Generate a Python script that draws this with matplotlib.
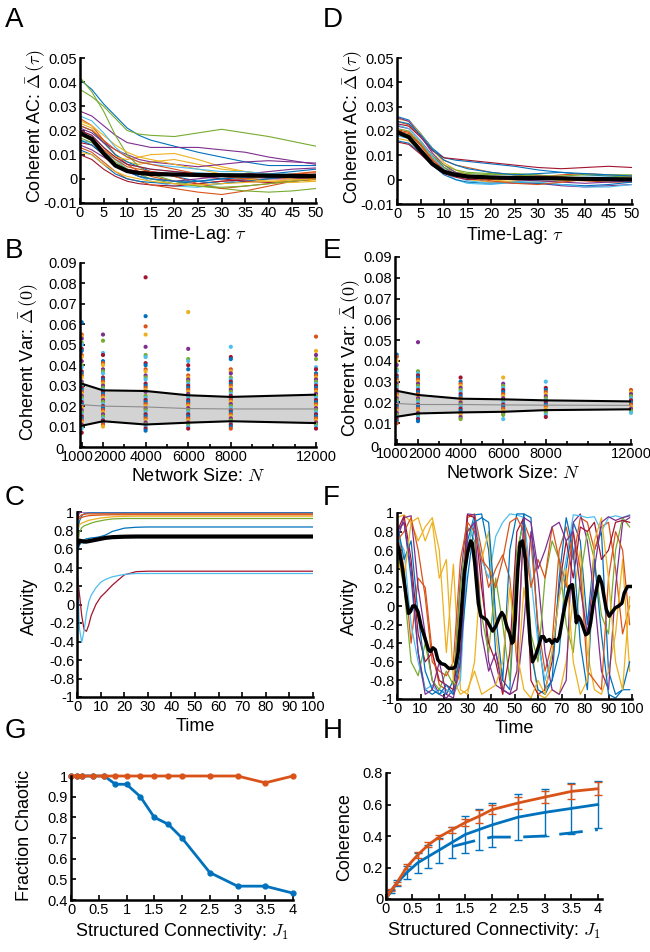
import numpy as np
import matplotlib.pyplot as plt
import matplotlib.transforms as mtransforms

plt.rcParams['font.family'] = ['Liberation Sans', 'DejaVu Sans']
plt.rcParams['mathtext.fontset'] = 'cm'

colors = ['#0072BD', '#D95319', '#EDB120', '#7E2F8E', '#77AC30', '#4DBEEE', '#A2142F']
blue, orange = colors[0], colors[1]

# ---- A: coherent autocorrelation, many networks (values x1e-3) ----
tau = [0, 2.5, 5, 7.5, 10, 12.5, 15, 20, 25, 30, 35, 40, 45, 50]
a_lines = [
    [41, 37, 31, 26, 21, 18, 16, 13.5, 11, 9, 7, 5.5, 5.5, 5.5],
    [25, 22, 16, 10, 6, 3, 1, -1, -2, -1, 0, 1, 2, 3],
    [23, 21, 15, 10, 7, 6, 7, 8, 6, 4, 3, 2, 1, 0.5],
    [28, 26, 22, 18, 15, 14, 13, 13, 13, 12, 11, 9, 7.5, 6],
    [37, 34, 30, 25, 20, 18.5, 18, 17.5, 19, 20.5, 19, 17.5, 15.5, 13.5],
    [20, 18, 13, 8, 4, 1, -1, -3, -3.5, -2, 0, 1, 1.5, 2],
    [10, 8, 4, 1, -1, -2, -2.5, -3, -2, -1, -0.5, 0, 0, 0.5],
    [22, 20, 15, 10, 7, 5, 3, 1, -1, -2, -1, 0, 1, 2],
    [13, 11, 7, 3, 0, -1, -2.5, -4, -5.5, -6.5, -5, -3, -1, 0],
    [18, 16, 12, 9, 8, 9, 10, 10.5, 8, 5, 3, 1, 0, -1],
    [21, 19, 15, 12, 10, 8, 7, 6, 5, 6, 7, 7.5, 7, 6.5],
    [42, 36, 28, 18, 10, 5, 2, -1, -3, -4, -5, -5.5, -5, -4],
    [16, 15, 11, 8, 6, 5, 4, 3, 2.5, 2, 2, 1, 0.5, 0],
    [15, 14, 10, 6, 4, 3, 3, 2, 1, 0, -1, -1.5, -1, 0],
    [12, 10, 6, 2, 0, -1, -1.5, -2, -1, 0, 1, 2, 3, 4],
    [19, 17, 12, 8, 5, 4, 3, 1, -2, -4, -3, -2, -1, 0],
    [24, 22, 18, 14, 11, 9, 8, 6, 4, 2, 0, -1, -1.5, -1],
    [14, 12, 9, 6, 3, 1, 0, -1, 0, 1, 2, 3, 4, 4.5],
    [17, 15, 11, 7, 4, 2, 0, -2, -3, -3.5, -3, -2, -1, 0],
    [26, 24, 19, 13, 9, 7, 6, 5, 4, 3, 3, 2, 2, 1.5],
    [20, 18, 13, 9, 6, 5, 4, 3, 2, 1, 1, 0.5, 0.5, 0],
    [16, 14, 10, 6, 3, 1, 0, -1, -1, 0, 0.5, 0.5, 1, 1],
    [22, 20, 16, 12, 9, 7, 6, 4, 2, 1, 0, 1, 2, 2.5],
    [11, 10, 6, 3, 1, 0, -1, -2, -2.5, -2, -1.5, -1, -0.5, 0],
]
a_mean = [19, 16.5, 10.5, 5.5, 3.2, 2.4, 2.0, 1.8, 1.6, 1.5, 1.4, 1.3, 1.2, 1.1]

# ---- D: same, other network type (values x1e-3) ----
d_lines = [
    [26, 24.5, 19, 13, 9, 8, 7.5, 6.5, 5.5, 4, 3, 2, 1.5, 1],
    [24, 22.5, 18, 12, 8, 6, 5, 3, 2, 1, 0, -0.5, -1, -1],
    [25, 24, 19, 12.5, 7, 4, 2, 0, -1, -1, -0.5, 0, 0.5, 1],
    [22, 21, 16, 10, 5, 2, 0.5, -1, -1.5, -1.5, -2.5, -3, -2.5, -2],
    [21, 20, 15, 9, 5, 3, 2.5, 2, 2.5, 2, 1, 0.5, 1, 1.5],
    [18, 17, 12.5, 7, 3, 0, -1.5, -2, -1, 0, 0.5, 1, 1, 0.5],
    [23, 22, 17.5, 12, 9, 8.5, 8, 7, 6, 5, 4.5, 5, 5.5, 5],
    [16, 15, 11, 6, 2, 0, -1, -1.5, -1, -1.5, -2, -2.5, -2, -1],
    [20, 19, 14, 8, 4, 2, 1, 0, 0.5, 1, 2, 2.5, 2, 1.5],
    [17, 16, 12, 7, 3.5, 1.5, 0, -1, -0.5, 0.5, 1, 0.5, 0, -0.5],
    [25.5, 24, 18, 11, 6, 3, 1.5, 0.5, 0, -0.5, -1, -1.5, -1, -0.5],
    [19, 18.5, 15, 10, 6, 4, 3, 2.5, 2, 1.5, 1.5, 2, 2, 2],
    [22.5, 21, 16, 9.5, 4.5, 1.5, -0.5, -1.5, -1, -1, -2, -3, -3, -2],
    [15.5, 14.5, 10.5, 6, 2.5, 1, 0, 0.5, 1, 1.5, 1, 0.5, 0, 0],
    [24, 23, 18.5, 12.5, 8, 6, 4.5, 3, 2, 2.5, 3, 2.5, 2, 1.5],
    [20.5, 19.5, 14.5, 8.5, 4, 2, 1, -0.5, -1.5, -2, -1, 0, 0.5, 0.5],
]
d_mean = [19.5, 17.5, 12, 6.5, 3.2, 2, 1.3, 0.9, 0.7, 0.6, 0.5, 0.3, 0.2, 0.1]

# ---- B / E: coherent variance vs network size ----
sizes = [1000, 2000, 4000, 6000, 8000, 12000]
b_points = [
    [0.061, 0.055, 0.054, 0.053, 0.051, 0.050, 0.048, 0.047, 0.045, 0.044, 0.042, 0.040, 0.039,
     0.037, 0.036, 0.035, 0.034, 0.032, 0.031, 0.030, 0.029, 0.028, 0.027, 0.026, 0.025, 0.024,
     0.023, 0.022, 0.021, 0.020, 0.019, 0.018, 0.017, 0.016, 0.015, 0.014, 0.013, 0.012, 0.011,
     0.010, 0.009, 0.007],
    [0.055, 0.052, 0.046, 0.045, 0.042, 0.041, 0.040, 0.038, 0.037, 0.036, 0.034, 0.033, 0.032,
     0.031, 0.030, 0.029, 0.028, 0.027, 0.026, 0.025, 0.024, 0.023, 0.022, 0.021, 0.020, 0.019,
     0.018, 0.017, 0.016, 0.015, 0.014, 0.013, 0.012, 0.011, 0.010],
    [0.083, 0.064, 0.059, 0.055, 0.049, 0.045, 0.044, 0.041, 0.040, 0.038, 0.037, 0.035, 0.034,
     0.033, 0.031, 0.030, 0.029, 0.028, 0.027, 0.025, 0.024, 0.023, 0.022, 0.021, 0.020, 0.019,
     0.018, 0.017, 0.016, 0.015, 0.014, 0.013, 0.012, 0.011, 0.010, 0.009, 0.008],
    [0.066, 0.048, 0.043, 0.042, 0.040, 0.038, 0.035, 0.034, 0.033, 0.032, 0.031, 0.030, 0.029,
     0.028, 0.027, 0.026, 0.025, 0.024, 0.023, 0.022, 0.021, 0.020, 0.019, 0.018, 0.017, 0.016,
     0.015, 0.014, 0.013, 0.012, 0.011, 0.010, 0.009],
    [0.049, 0.044, 0.043, 0.038, 0.037, 0.036, 0.034, 0.033, 0.032, 0.031, 0.030, 0.029, 0.028,
     0.027, 0.026, 0.025, 0.024, 0.023, 0.022, 0.021, 0.020, 0.019, 0.018, 0.017, 0.016, 0.015,
     0.014, 0.013, 0.012, 0.011, 0.010, 0.009],
    [0.054, 0.047, 0.045, 0.043, 0.039, 0.038, 0.036, 0.035, 0.034, 0.033, 0.032, 0.031, 0.030,
     0.029, 0.028, 0.027, 0.026, 0.025, 0.024, 0.023, 0.022, 0.021, 0.020, 0.019, 0.018, 0.017,
     0.016, 0.015, 0.014, 0.013, 0.012, 0.011, 0.010, 0.009],
]
b_upper = [0.031, 0.0277, 0.0274, 0.0253, 0.0245, 0.0256]
b_mid = [0.0207, 0.0200, 0.0196, 0.0188, 0.0186, 0.0186]
b_lower = [0.0104, 0.0126, 0.0110, 0.0119, 0.0126, 0.0117]

e_points = [
    [0.043, 0.042, 0.040, 0.038, 0.036, 0.035, 0.033, 0.032, 0.031, 0.030, 0.029, 0.028, 0.027,
     0.026, 0.025, 0.024, 0.023, 0.022, 0.021, 0.020, 0.019, 0.018, 0.017, 0.016, 0.015, 0.014,
     0.013, 0.012, 0.011, 0.010],
    [0.049, 0.035, 0.034, 0.033, 0.032, 0.031, 0.030, 0.029, 0.028, 0.027, 0.026, 0.025, 0.024,
     0.023, 0.022, 0.021, 0.020, 0.019, 0.018, 0.017, 0.016, 0.015, 0.014, 0.013, 0.012, 0.011],
    [0.032, 0.030, 0.029, 0.028, 0.027, 0.026, 0.025, 0.024, 0.023, 0.022, 0.021, 0.020, 0.019,
     0.018, 0.017, 0.016, 0.015, 0.014, 0.013, 0.012],
    [0.032, 0.029, 0.028, 0.027, 0.026, 0.025, 0.024, 0.023, 0.022, 0.021, 0.020, 0.019, 0.018,
     0.017, 0.016, 0.015, 0.014, 0.012],
    [0.030, 0.027, 0.026, 0.025, 0.024, 0.023, 0.022, 0.021, 0.020, 0.019, 0.018, 0.017, 0.016,
     0.015, 0.014, 0.013],
    [0.026, 0.025, 0.024, 0.023, 0.022, 0.021, 0.020, 0.019, 0.018, 0.017, 0.016, 0.015],
]
e_upper = [0.0256, 0.0236, 0.0218, 0.0215, 0.0210, 0.0205]
e_mid = [0.0195, 0.0190, 0.0190, 0.0188, 0.0187, 0.0186]
e_lower = [0.0131, 0.0147, 0.0152, 0.0155, 0.0163, 0.0167]

# ---- C: activity, non-chaotic network ----
c_time = [0, 1, 2, 3, 4, 5, 6, 8, 10, 12, 15, 20, 25, 30, 100]
c_lines = [
    ('#7E2F8E', [0.93, 0.99, 1.0, 1.0, 1.0, 1.0, 1.0, 1.0, 1.0, 1.0, 1.0, 1.0, 1.0, 1.0, 1.0]),
    ('#0072BD', [0.7, 0.9, 0.96, 0.98, 0.985, 0.99, 0.99, 0.99, 0.99, 0.99, 0.99, 0.99, 0.99, 0.99, 0.99]),
    ('#D95319', [0.9, 0.95, 0.97, 0.975, 0.98, 0.98, 0.98, 0.98, 0.98, 0.98, 0.98, 0.98, 0.98, 0.98, 0.98]),
    ('#D95319', [0.95, 0.93, 0.94, 0.95, 0.955, 0.96, 0.962, 0.965, 0.967, 0.968, 0.97, 0.97, 0.97, 0.97, 0.97]),
    ('#EDB120', [0.8, 0.86, 0.88, 0.89, 0.9, 0.91, 0.915, 0.925, 0.935, 0.94, 0.948, 0.953, 0.955, 0.955, 0.955]),
    ('#77AC30', [0.55, 0.78, 0.83, 0.85, 0.86, 0.87, 0.88, 0.895, 0.905, 0.915, 0.925, 0.93, 0.93, 0.93, 0.93]),
    ('#0072BD', [0.55, 0.64, 0.68, 0.7, 0.71, 0.715, 0.72, 0.725, 0.735, 0.75, 0.79, 0.825, 0.835, 0.838, 0.838]),
    ('#A2142F', [0.35, 0.12, -0.12, -0.27, -0.29, -0.22, -0.12, 0.0, 0.08, 0.13, 0.21, 0.32, 0.355, 0.36, 0.36]),
    ('#4DBEEE', [0.55, -0.25, -0.41, -0.28, -0.1, 0.03, 0.1, 0.18, 0.24, 0.27, 0.3, 0.325, 0.335, 0.335, 0.335]),
]
c_mean = [0.64, 0.69, 0.685, 0.68, 0.68, 0.685, 0.69, 0.70, 0.71, 0.72, 0.728, 0.733, 0.735, 0.735, 0.735]

# ---- F: activity, chaotic network ----
f_time = list(range(0, 100, 3))
f_lines = [
    [0.8, 0.9, 0.3, -0.5, -0.9, -0.95, -0.9, -0.95, -0.8, -0.6, 0.7, 0.98, 0.99, 0.6, -0.5, -0.8, -0.9,
     0.5, 0.99, 0.95, -0.3, -0.9, -0.8, -0.5, 0.4, 0.9, 0.7, -0.2, 0.6, 0.8, -0.7, -0.95, -0.9, -0.9],
    [0.85, 0.4, -0.4, 0.3, 0.2, -0.5, -0.85, -0.9, -0.95, -0.7, 0.95, 0.99, 0.6, 0.2, 0.4, 0.55, 0.3,
     -0.6, 0.9, 0.7, -0.2, -0.7, -0.4, 0.6, 0.85, 0.5, 0.95, 0.9, 0.6, 0.85, 0.9, 0.4, -0.3, 0.0],
    [0.95, 0.98, 0.9, 0.7, 0.85, 0.95, 0.6, -0.5, 0.45, -0.9, -0.95, -0.6, 0.5, 0.8, -0.3, -0.9, -0.95,
     -0.9, 0.2, -0.4, -0.95, -0.99, -0.9, -0.95, -0.6, 0.1, 0.6, -0.5, -0.9, -0.95, -0.7, -0.3, 0.5, -0.7],
    [0.7, 0.95, 0.97, 0.2, -0.3, -0.8, -0.95, -0.99, -0.9, 0.3, 0.99, 0.98, 0.4, -0.6, -0.85, -0.9, -0.95,
     -0.9, -0.2, 0.8, 0.3, -0.5, -0.9, -0.95, -0.8, 0.9, 0.99, 0.7, 0.1, -0.7, -0.9, 0.2, 0.9, 0.95],
    [0.6, 0.2, -0.6, -0.75, -0.4, -0.8, -0.9, -0.7, -0.85, 0.2, 0.85, 0.7, -0.1, -0.5, 0.3, -0.2, -0.8,
     0.6, 0.9, -0.3, -0.6, 0.3, 0.7, 0.5, -0.2, -0.5, 0.3, 0.8, 0.5, -0.1, -0.3, 0.6, 0.95, 0.85],
    [0.75, 0.6, -0.2, -0.6, -0.9, -0.85, -0.95, -0.9, -0.95, -0.8, 0.6, 0.95, 0.5, 0.3, 0.75, 0.9, 0.99,
     0.98, 0.95, 0.3, -0.4, -0.8, -0.5, 0.1, 0.5, 0.98, 0.97, 0.95, 0.96, 0.8, 0.95, 0.97, 0.95, 0.98],
    [0.8, 0.97, 0.5, -0.3, -0.6, -0.5, -0.8, -0.85, -0.9, -0.3, 0.98, 0.95, 0.2, -0.4, -0.6, -0.95, -0.5,
     0.8, 0.95, -0.8, -0.95, -0.9, -0.6, 0.2, 0.7, 0.3, 0.85, 0.8, 0.9, 0.5, 0.6, 0.9, 0.92, 0.9],
    [0.9, 0.5, 0.7, -0.1, -0.7, -0.9, -0.95, -0.85, -0.95, -0.5, 0.3, 0.9, 0.95, 0.9, -0.1, -0.8, 0.6,
     0.99, 0.99, -0.5, -0.9, -0.95, -0.8, 0.3, 0.95, 0.6, -0.4, -0.9, 0.5, -0.3, -0.95, -0.99, -0.9, -0.6],
    [0.7, 0.8, 0.95, 0.6, 0.1, -0.6, -0.7, -0.75, -0.6, 0.5, 0.9, 0.8, 0.5, 0.4, 0.2, 0.5, 0.9,
     0.95, 0.8, 0.2, 0.5, 0.3, 0.85, 0.5, 0.2, 0.8, 0.4, -0.7, -0.8, -0.9, 0.3, 0.8, 0.6, -0.2],
    [0.5, 0.3, 0.9, 0.95, 0.7, 0.9, 0.3, 0.5, -0.8, -0.95, -0.9, -0.7, -0.95, -0.9, -0.85, -0.6, 0.2,
     -0.5, -0.9, -0.99, -0.8, -0.95, -0.5, 0.1, 0.4, -0.6, -0.95, -0.8, 0.7, 0.95, 0.3, -0.6, -0.9, 0.1],
    [0.8, 0.9, 0.4, -0.5, -0.95, -0.9, -0.6, -0.95, -0.99, -0.6, 0.8, 0.9, -0.3, -0.7, -0.5, -0.9, -0.95,
     -0.7, 0.95, 0.9, 0.4, 0.6, 0.85, 0.9, 0.7, 0.8, 0.2, -0.3, 0.4, 0.9, 0.96, 0.92, 0.95, 0.97],
]
f_mean_t = [0, 1, 2.4, 3.9, 4.9, 5.7, 6.7, 7.7, 8.9, 10.3, 11.7, 13.4, 14.3, 15.3, 16.3, 17.4, 18.9,
            20.3, 22, 23.9, 24.9, 26, 27.1, 28.6, 30, 31.3, 32, 33.1, 34.6, 35.7, 37.1, 38.1, 39.6,
            40.7, 42, 43.4, 44.6, 45.6, 46.7, 47.9, 48.9, 49.6, 50.3, 51.4, 52.4, 53.4, 54.6, 55.7,
            56.7, 57.7, 58.9, 60.3, 61.4, 62.4, 63.4, 64.9, 66, 67.1, 68.1, 69.1, 70.6, 72, 73.4,
            74.6, 75.6, 76.3, 77.1, 78.1, 79.1, 80.3, 81.4, 82.4, 83.4, 84.9, 86, 87.1, 88.1, 89.1,
            90.3, 91.4, 92.9, 94.3, 95.7, 96.7, 98.1, 100]
f_mean = [0.68, 0.59, 0.39, 0.10, -0.08, -0.06, 0.0, 0.0, -0.06, -0.22, -0.33, -0.47, -0.49, -0.45,
          -0.47, -0.58, -0.62, -0.63, -0.67, -0.67, -0.65, -0.5, -0.15, 0.35, 0.57, 0.70, 0.68, 0.46,
          0.03, -0.11, -0.13, -0.15, -0.22, -0.27, -0.22, -0.13, -0.07, -0.11, -0.22, -0.29, -0.40,
          -0.38, -0.15, 0.39, 0.68, 0.70, 0.50, -0.04, -0.40, -0.60, -0.54, -0.43, -0.33, -0.33,
          -0.38, -0.36, -0.40, -0.36, -0.38, -0.33, -0.11, 0.07, 0.21, 0.23, 0.01, -0.18, -0.11,
          -0.15, -0.22, -0.31, -0.29, -0.18, 0.0, 0.18, 0.32, 0.25, 0.10, -0.04, -0.11, -0.07,
          -0.02, 0.0, 0.03, 0.14, 0.21, 0.21]

# ---- G / H: structured connectivity sweep ----
j1 = [0, 0.1, 0.2, 0.4, 0.6, 0.8, 1.0, 1.25, 1.5, 1.75, 2.0, 2.5, 3.0, 3.5, 4.0]
chaotic_blue = [1, 1, 1, 1, 1, 0.96, 0.96, 0.9, 0.8, 0.767, 0.7, 0.533, 0.467, 0.467, 0.433]
chaotic_orange = [1, 1, 1, 1, 1, 1, 1, 1, 1, 1, 1, 1, 1, 0.967, 1]
coh_orange = [0, 0.057, 0.1, 0.206, 0.28, 0.344, 0.393, 0.44, 0.486, 0.524, 0.567, 0.61, 0.647, 0.683, 0.70]
err_orange = [0, 0.005, 0.01, 0.015, 0.02, 0.015, 0.012, 0.02, 0.025, 0.04, 0.03, 0.04, 0.04, 0.045, 0.04]
coh_blue = [0, 0.05, 0.1, 0.17, 0.23, 0.27, 0.31, 0.36, 0.41, 0.44, 0.47, 0.52, 0.55, 0.575, 0.60]
err_blue = [0, 0.01, 0.02, 0.04, 0.065, 0.07, 0.08, 0.1, 0.115, 0.13, 0.14, 0.145, 0.15, 0.16, 0.15]
j1_fixed = [1.25, 1.75, 2.0, 2.5, 3.0, 3.5, 4.0]
coh_fixed = [0.333, 0.376, 0.393, 0.393, 0.40, 0.42, 0.44]

W, H = 650, 952
fig = plt.figure(figsize=(W / 100, H / 100), dpi=100)


def add_ax(x0, y0, x1, y1):
    ax = fig.add_axes([x0 / W, 1 - y1 / H, (x1 - x0) / W, (y1 - y0) / H])
    ax.spines['top'].set_visible(False)
    ax.spines['right'].set_visible(False)
    ax.spines['left'].set_linewidth(1.8)
    ax.spines['bottom'].set_linewidth(1.8)
    ax.tick_params(which='both', direction='in', width=1.2, labelsize=10.5, pad=2)
    ax.tick_params(which='major', length=3.5)
    ax.tick_params(which='minor', length=2.5)
    return ax


def ticks(ax, xt, yt):
    ax.set_xticks(xt)
    ax.set_xticklabels([f'{v:g}' for v in xt])
    ax.set_yticks(yt)
    ax.set_yticklabels([f'{v:g}' for v in yt])


def shift(label, dx, dy=0):
    # move a tick label by a few pixels
    label.set_transform(label.get_transform() +
                        mtransforms.ScaledTranslation(dx / 100, dy / 100, fig.dpi_scale_trans))


def labels(ax, xl, yl, yx, yy):
    ax.set_xlabel(xl, fontsize=lab, labelpad=3)
    ax.set_ylabel(yl, fontsize=lab)
    ax.yaxis.set_label_coords(yx, yy)


lab = 13
ac_ticks = [-0.01, 0, 0.01, 0.02, 0.03, 0.04, 0.05]
var_ticks = [0, 0.01, 0.02, 0.03, 0.04, 0.05, 0.06, 0.07, 0.08, 0.09]
act_ticks = [-1, -0.8, -0.6, -0.4, -0.2, 0, 0.2, 0.4, 0.6, 0.8, 1]
j_ticks = [0, 0.5, 1, 1.5, 2, 2.5, 3, 3.5, 4]

# A and D
for box, lines, mean, yx in [((80, 58, 316, 203), a_lines, a_mean, -0.135),
                             ((397, 58, 632, 204), d_lines, d_mean, -0.135)]:
    ax = add_ax(*box)
    for i, v in enumerate(lines):
        ax.plot(tau, np.array(v) * 1e-3, color=colors[i % 7], lw=0.8)
    ax.plot(tau, np.array(mean) * 1e-3, color='k', lw=3)
    ax.set_xlim(0, 50)
    ax.set_ylim(-0.01, 0.05)
    ticks(ax, list(range(0, 51, 5)), ac_ticks)
    labels(ax, 'Time-Lag: $\\tau$', 'Coherent AC: $\\bar{\\Delta}\\,(\\tau)$', yx, 0.53)

# B and E
for box, pts, up, mid, lo, yx in [((80, 263, 316, 447), b_points, b_upper, b_mid, b_lower, -0.165),
                                  ((395, 257, 631, 444), e_points, e_upper, e_mid, e_lower, -0.135)]:
    ax = add_ax(*box)
    ax.fill_between(sizes, lo, up, color='#d3d3d3', lw=0, zorder=1)
    for k, (n, col) in enumerate(zip(sizes, pts)):
        cs = [colors[(i + 3 * k) % 7] for i in range(len(col))]
        ax.scatter([n] * len(col), col, s=9, c=cs, linewidths=0, zorder=2, clip_on=False)
    ax.plot(sizes, up, color='k', lw=1.5, zorder=3)
    ax.plot(sizes, lo, color='k', lw=1.5, zorder=3)
    ax.plot(sizes, mid, color='#8c8c8c', lw=0.8, zorder=3)
    ax.set_xlim(920, 12000)
    ax.set_ylim(0, 0.09)
    ticks(ax, sizes, var_ticks)
    ax.set_xticks(list(range(1000, 12001, 1000)), minor=True)
    xl = ax.get_xticklabels()
    shift(xl[0], -4)
    shift(xl[1], 7)
    shift(ax.get_yticklabels()[0], -14, -2)
    labels(ax, 'Network Size: $N$', 'Coherent Var: $\\bar{\\Delta}\\,(0)$', yx, 0.46)

# C
ax = add_ax(77, 512, 313, 697)
for col, v in c_lines:
    ax.plot(c_time, v, color=col, lw=0.9)
ax.plot(c_time, c_mean, color='k', lw=3)
ax.set_xlim(0, 100)
ax.set_ylim(-1, 1)
ticks(ax, list(range(0, 101, 10)), act_ticks)
labels(ax, 'Time', 'Activity', -0.165, 0.49)

# F
ax = add_ax(397, 513, 632, 699)
for i, v in enumerate(f_lines):
    ax.plot(f_time, v, color=colors[i % 7], lw=0.9)
ax.plot(f_mean_t, f_mean, color='k', lw=2.5)
ax.set_xlim(0, 100)
ax.set_ylim(-1, 1)
ticks(ax, list(range(0, 101, 10)), act_ticks)
labels(ax, 'Time', 'Activity', -0.166, 0.5)

# G
ax = add_ax(71, 776, 293, 900)
ax.plot(j1, chaotic_blue, '-o', color=blue, lw=2, ms=3.5, clip_on=False)
ax.plot(j1, chaotic_orange, '-o', color=orange, lw=2, ms=3.5, clip_on=False)
ax.set_xlim(0, 4)
ax.set_ylim(0.4, 1)
ticks(ax, j_ticks, [0.4, 0.5, 0.6, 0.7, 0.8, 0.9, 1])
labels(ax, 'Structured Connectivity: $J_1$', 'Fraction Chaotic', -0.17, 0.52)

# H
ax = add_ax(386, 773, 602, 899)
ax.errorbar(j1, coh_blue, yerr=err_blue, color=blue, lw=2, elinewidth=1, capsize=3, capthick=1)
ax.plot(j1_fixed, coh_fixed, color=blue, lw=2, dashes=(8.5, 4.5))
ax.errorbar(j1, coh_orange, yerr=err_orange, color=orange, lw=2, elinewidth=1, capsize=3, capthick=1)
ax.set_xlim(0, 4.08)
ax.set_ylim(0, 0.8)
ticks(ax, j_ticks, [0, 0.2, 0.4, 0.6, 0.8])
labels(ax, 'Structured Connectivity: $J_1$', 'Coherence', -0.153, 0.49)

# panel letters
for letter, x, y in [('A', 5, 7), ('D', 323, 7), ('B', 5, 238), ('E', 323, 238),
                     ('C', 5, 485), ('F', 323, 485), ('G', 5, 718), ('H', 323, 718)]:
    fig.text(x / W, 1 - y / H, letter, fontsize=20, va='top', ha='left')

fig.savefig('out.png', dpi=100)
